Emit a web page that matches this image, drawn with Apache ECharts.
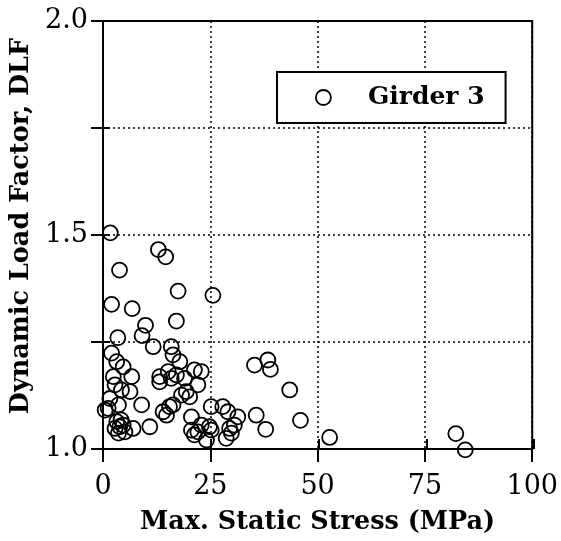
<!DOCTYPE html>
<html>
<head>
<meta charset="utf-8">
<script src="https://cdn.jsdelivr.net/npm/echarts@6/dist/echarts.min.js"></script>
<style>
html,body{margin:0;padding:0;background:#fff;}
#chart{width:561px;height:541px;}
</style>
</head>
<body>
<div id="chart"></div>
<script>
// Data
const seriesName = 'Girder 3';
const xTicks = [0, 25, 50, 75, 100];
const yTickLabels = ['1.0', '1.5', '2.0'];
const stress = [
  1.7, 12.9, 14.6, 3.85, 17.5, 25.6, 2.0, 6.8, 9.9, 17.1, 9.1, 3.45,
  2.0, 3.2, 4.7, 6.7, 2.4, 2.8, 4.3, 6.3, 1.6, 3.6, 1.2, 9.0, 0.5,
  3.2, 3.9, 2.8, 4.7, 5.1, 3.6, 7.0, 4.2, 10.9,
  11.7, 15.9, 16.3, 17.9, 13.2, 13.2, 15.2, 15.9, 17.1, 19.0, 21.3, 22.9, 22.1,
  19.4, 18.3, 20.2, 14.0, 14.8, 15.5, 16.3,
  25.2, 27.9, 29.1, 31.4, 20.6, 20.6, 22.1, 22.9, 24.8, 25.2, 21.3, 24.1, 28.7, 29.5, 29.9, 30.6,
  35.3, 38.4, 39.0, 43.5, 35.7, 37.9, 46.0, 52.8, 82.2, 84.4
];
const dlf = [
  1.505, 1.466, 1.449, 1.418, 1.369, 1.359, 1.338, 1.328, 1.289, 1.299, 1.265, 1.260,
  1.224, 1.204, 1.192, 1.169, 1.169, 1.150, 1.138, 1.134, 1.118, 1.103, 1.095, 1.103, 1.091,
  1.064, 1.052, 1.048, 1.056, 1.040, 1.037, 1.048, 1.068, 1.052,
  1.239, 1.239, 1.220, 1.204, 1.169, 1.157, 1.181, 1.165, 1.173, 1.165, 1.185, 1.181, 1.150,
  1.134, 1.126, 1.122, 1.087, 1.079, 1.099, 1.103,
  1.099, 1.099, 1.087, 1.075, 1.075, 1.044, 1.040, 1.056, 1.052, 1.044, 1.033, 1.021, 1.025, 1.048, 1.037, 1.056,
  1.196, 1.208, 1.186, 1.138, 1.079, 1.046, 1.067, 1.027, 1.036, 0.998
];

const points = stress.map((x, i) => [x, dlf[i]]);
const serif = 'DejaVu Serif';
const geom = {left: 103, right: 27, top: 21, bottom: 92};
const dotted = {color: '#000', width: 1.5, type: [2, 3]};

const baseX = {type: 'value', min: 0, max: 100, interval: 25, position: 'bottom'};
const baseY = {type: 'value', min: 1.0, max: 2.0, interval: 0.25, position: 'left'};

const chart = echarts.init(document.getElementById('chart'));
chart.setOption({
  animation: false,
  backgroundColor: '#fff',
  grid: [
    Object.assign({show: true, borderColor: '#000', borderWidth: 2}, geom),
    Object.assign({show: false}, geom)
  ],
  xAxis: [
    Object.assign({}, baseX, {
      gridIndex: 0,
      name: 'Max. Static Stress (MPa)',
      nameLocation: 'middle',
      nameGap: 60,
      nameTextStyle: {fontFamily: serif, fontWeight: 'bold', fontSize: 25.5, color: '#000'},
      axisLine: {show: true, lineStyle: {color: '#000', width: 2}},
      axisTick: {show: true, inside: false, length: 13, lineStyle: {color: '#000', width: 2}},
      axisLabel: {
        show: true, margin: 24, fontFamily: serif, fontSize: 27, color: '#000',
        formatter: v => (xTicks.indexOf(v) >= 0 ? String(v) : '')
      },
      splitLine: {show: true, lineStyle: dotted}
    }),
    Object.assign({}, baseX, {
      gridIndex: 1,
      axisLine: {show: false},
      axisTick: {show: true, inside: true, length: 10, lineStyle: {color: '#000', width: 2}},
      axisLabel: {show: false},
      splitLine: {show: false}
    })
  ],
  yAxis: [
    Object.assign({}, baseY, {
      gridIndex: 0,
      name: 'Dynamic Load Factor, DLF',
      nameLocation: 'middle',
      nameGap: 68,
      nameRotate: 90,
      nameTextStyle: {fontFamily: serif, fontWeight: 'bold', fontSize: 25.5, color: '#000', padding: [0, 0, 0, 18]},
      axisLine: {show: true, lineStyle: {color: '#000', width: 2}},
      axisTick: {show: true, inside: false, length: 12, lineStyle: {color: '#000', width: 2}},
      axisLabel: {
        show: true, margin: 15, fontFamily: serif, fontSize: 27, color: '#000',
        formatter: v => {
          const s = v.toFixed(1);
          return (Math.abs(v * 2 - Math.round(v * 2)) < 1e-6 && yTickLabels.indexOf(s) >= 0) ? s : '';
        }
      },
      splitLine: {show: true, lineStyle: dotted}
    }),
    Object.assign({}, baseY, {
      gridIndex: 1,
      axisLine: {show: false},
      axisTick: {show: true, inside: true, length: 7, lineStyle: {color: '#000', width: 2}},
      axisLabel: {show: false},
      splitLine: {show: false}
    })
  ],
  legend: {
    left: 277, top: 72,
    padding: [13, 21, 13, 38],
    borderColor: '#000', borderWidth: 2,
    backgroundColor: '#fff',
    itemWidth: 15, itemHeight: 15,
    itemStyle: {color: 'transparent', borderColor: '#000', borderWidth: 1.8},
    textStyle: {fontFamily: serif, fontWeight: 'bold', fontSize: 25, color: '#000', padding: [0, 0, 0, 32]},
    data: [{name: seriesName, icon: 'circle'}]
  },
  series: [{
    name: seriesName,
    type: 'scatter',
    xAxisIndex: 0, yAxisIndex: 0,
    clip: false,
    symbol: 'circle',
    symbolSize: 15,
    itemStyle: {color: 'transparent', borderColor: '#000', borderWidth: 1.8, opacity: 1},
    data: points,
    z: 5
  }]
});
</script>
</body>
</html>
